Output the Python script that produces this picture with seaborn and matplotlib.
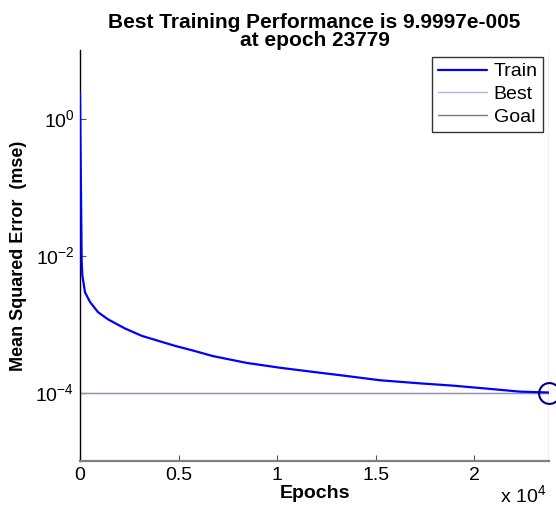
import numpy as np
import pandas as pd
import matplotlib
matplotlib.use("Agg")
import matplotlib.pyplot as plt
import seaborn as sns
from matplotlib.lines import Line2D

# ---- data ----
epochs = [0, 30, 86, 117, 254, 507, 913, 1420, 2282, 3143, 3955, 4817, 5729,
          6743, 8467, 10140, 11813, 13537, 15210, 17238, 18911, 20635, 22308, 23779]
train_mse = [2.4, 0.3, 8.1e-3, 5.2e-3, 2.9e-3, 2.1e-3, 1.49e-3, 1.17e-3, 8.6e-4, 6.7e-4,
             5.7e-4, 4.8e-4, 4.1e-4, 3.4e-4, 2.7e-4, 2.3e-4, 2.0e-4, 1.74e-4, 1.51e-4,
             1.36e-4, 1.26e-4, 1.14e-4, 1.03e-4, 9.9997e-5]
best_epoch = 23779
best_perf = 9.9997e-5
goal = 1e-4
xticks = [0, 5000, 10000, 15000, 20000]
xticklabels = ["0", "0.5", "1", "1.5", "2"]
yticks = [1e0, 1e-2, 1e-4]

df = pd.DataFrame({"Epochs": epochs, "MSE": train_mse})

sns.set_style("white")
plt.rcParams["font.family"] = ["Liberation Sans", "DejaVu Sans"]
plt.rcParams["mathtext.fontset"] = "custom"
plt.rcParams["mathtext.rm"] = "Liberation Sans"
plt.rcParams["mathtext.it"] = "Liberation Sans:italic"
plt.rcParams["mathtext.bf"] = "Liberation Sans:bold"
for k in ["text.color", "axes.labelcolor", "xtick.color", "ytick.color"]:
    plt.rcParams[k] = "black"
plt.rcParams["xtick.bottom"] = True
plt.rcParams["ytick.left"] = True

fig = plt.figure(figsize=(5.56, 5.08), dpi=100)
ax = fig.add_axes([0.1439, 0.0925, 0.8435, 0.809])

sns.lineplot(data=df, x="Epochs", y="MSE", ax=ax, color="#0000ff", linewidth=1.6,
             estimator=None, sort=False, zorder=3)
ax.set_yscale("log")
ax.set_xlim(0, best_epoch)
ax.set_ylim(1e-5, 1e1)

best_color = "#b4b4ea"
goal_color = "#7a7a8a"
ax.axhline(goal, color=goal_color, linewidth=1.0, zorder=2)
ax.axhline(best_perf, color=best_color, linewidth=1.0, alpha=0.5, zorder=2)
ax.axvline(best_epoch, color=best_color, linewidth=1.0, zorder=2)
ax.plot([best_epoch], [best_perf], marker="o", markersize=15, markerfacecolor="none",
        markeredgecolor="#000080", markeredgewidth=1.5, clip_on=False, zorder=4)

ax.set_xticks(xticks)
ax.set_xticklabels(xticklabels)
ax.set_yticks(yticks)
ax.yaxis.set_minor_locator(matplotlib.ticker.NullLocator())
ax.xaxis.set_minor_locator(matplotlib.ticker.NullLocator())
ax.tick_params(axis="both", which="major", direction="in", length=4, width=0.8,
               labelsize=14, pad=4, bottom=True, left=True)
ax.tick_params(axis="x", color="#555555", labelcolor="black")
ax.tick_params(axis="y", color="#555555", labelcolor="black")

for side in ["top", "right"]:
    ax.spines[side].set_visible(False)
ax.spines["left"].set_color("black")
ax.spines["left"].set_linewidth(1.0)
ax.spines["bottom"].set_color("#808080")
ax.spines["bottom"].set_linewidth(1.6)

ax.set_title("Best Training Performance is 9.9997e-005\nat epoch 23779",
             fontsize=15, fontweight="bold", pad=1, linespacing=0.92, color="black")
ax.set_xlabel("Epochs", fontsize=14, fontweight="bold", labelpad=1)
ax.set_ylabel("Mean Squared Error  (mse)", fontsize=13, fontweight="bold", labelpad=6)

fig.text(0.982, 0.003, r"x 10$^{4}$", fontsize=14, ha="right", va="bottom")

handles = [Line2D([], [], color="#0000ff", linewidth=1.6),
           Line2D([], [], color=best_color, linewidth=1.0),
           Line2D([], [], color=goal_color, linewidth=1.0)]
leg = ax.legend(handles, ["Train", "Best", "Goal"], loc="upper right",
                bbox_to_anchor=(0.988, 0.983), fontsize=14, frameon=True, fancybox=False,
                edgecolor="black", handlelength=2.5, handletextpad=0.35,
                borderpad=0.3, labelspacing=0.26, borderaxespad=0.0)
leg.get_frame().set_linewidth(1.0)

fig.savefig("out.png", dpi=100)
